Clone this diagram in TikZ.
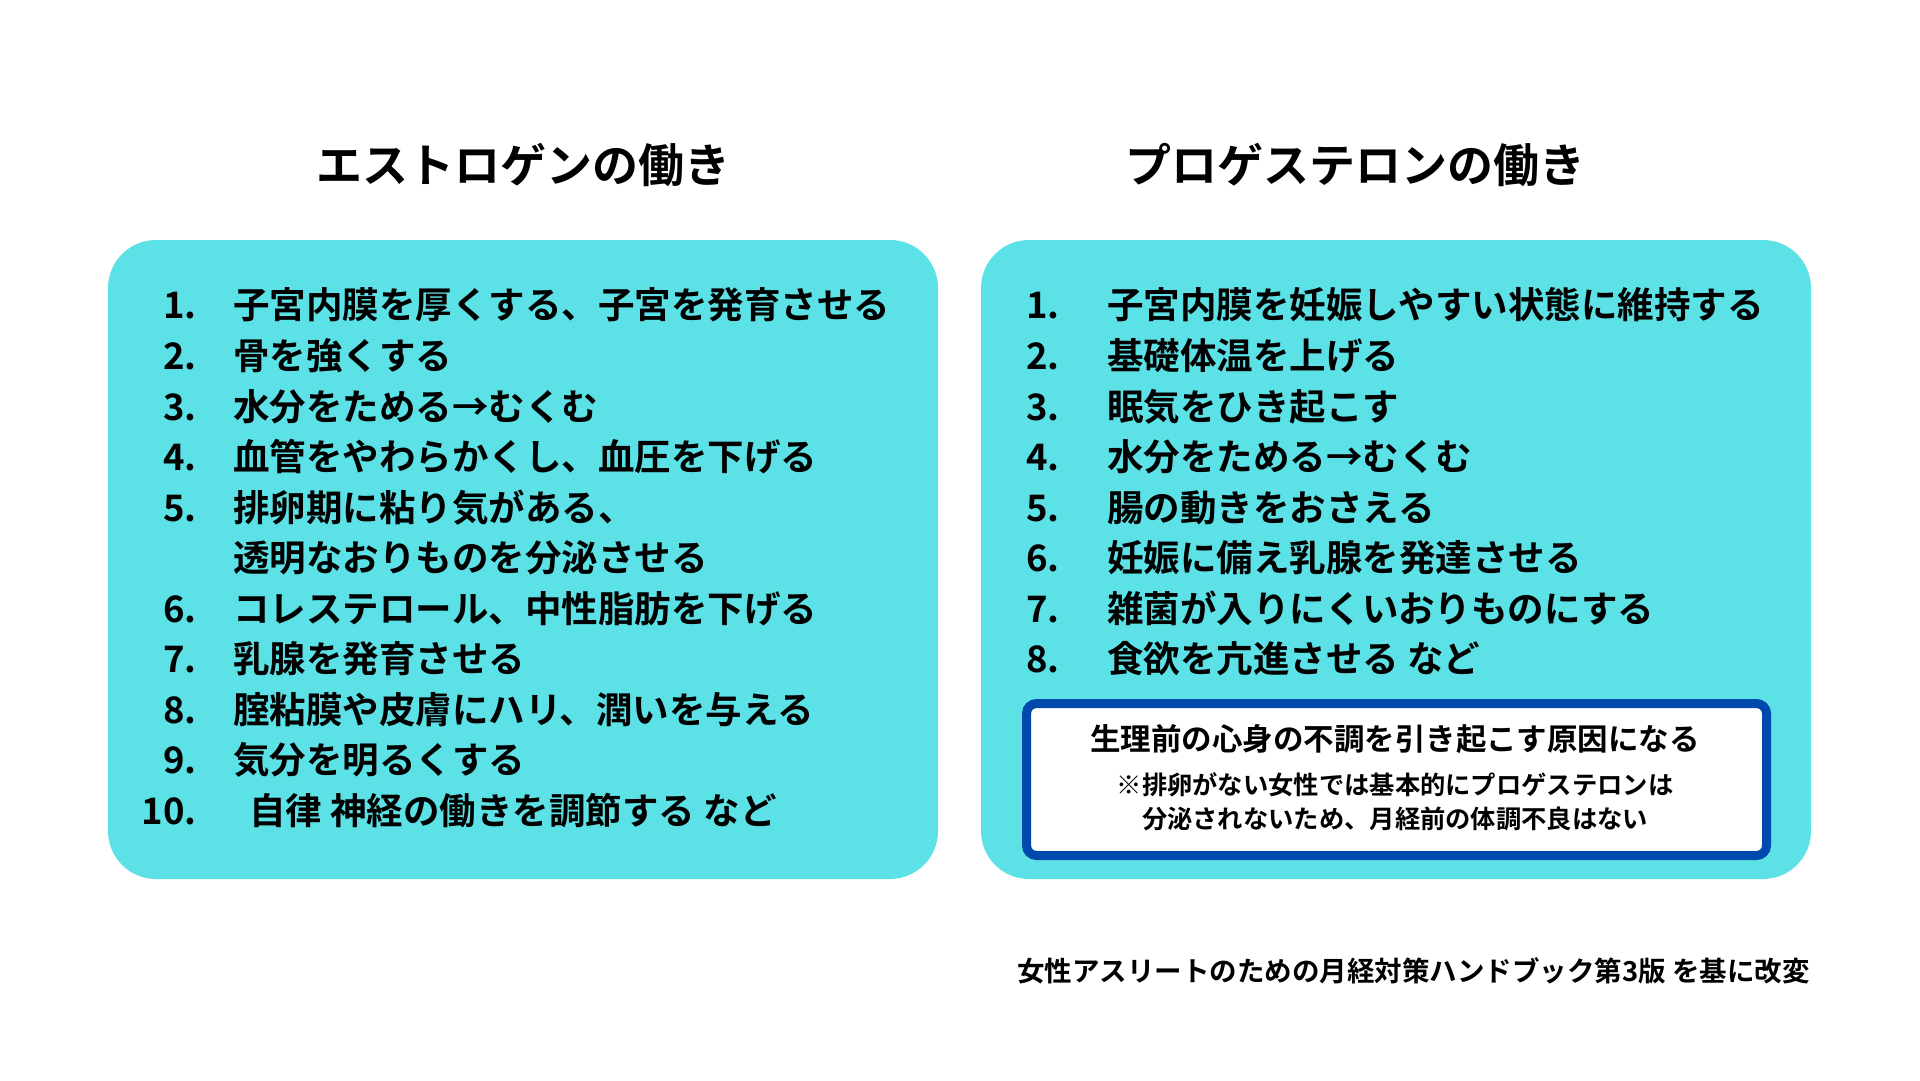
\documentclass[tikz,border=0pt]{standalone}
\usepackage{fontspec}
\setmainfont{Noto Sans CJK JP}[BoldFont={Noto Sans CJK JP Bold}]
\definecolor{cardcyan}{HTML}{5CE1E6}
\definecolor{boxblue}{HTML}{004AAD}
\tikzset{
  card/.style={fill=cardcyan, draw=none, rounded corners=48pt},
  ttl/.style={font=\fontsize{46}{55}\selectfont\bfseries, text=black, inner sep=0pt},
  itm/.style={anchor=west, inner sep=0pt, font=\fontsize{36.5}{43}\selectfont\bfseries, text height=32.1pt, text depth=4.4pt},
  num/.style={anchor=east, inner sep=0pt, font=\fontsize{36.5}{43}\selectfont\bfseries, text height=32.1pt, text depth=4.4pt},
  notebox/.style={draw=boxblue, line width=9pt, fill=white, rounded corners=10pt},
  boxhead/.style={inner sep=0pt, font=\fontsize{30.5}{36}\selectfont\bfseries},
  boxnote/.style={inner sep=0pt, font=\fontsize{25.3}{30}\selectfont\bfseries},
  foot/.style={anchor=east, inner sep=0pt, font=\fontsize{27.5}{33}\selectfont\bfseries}
}
\begin{document}
\begin{tikzpicture}[x=1pt,y=-1pt]
\useasboundingbox (0,0) rectangle (1920,1080);
\fill[white] (0,0) rectangle (1920,1080);
% titles
\node[ttl] (t1) at (523,165) {エストロゲンの働き};
\node[ttl] (t2) at (1355,165) {プロゲステロンの働き};
% cards
\path[card] (108,240) rectangle (938,879);
\path[card] (981,240) rectangle (1811,879);
% left list
\def\xn{197}\def\xt{233}
\node[num] (ln1) at (\xn,305) {1.};   \node[itm] (li1) at (\xt,305) {子宮内膜を厚くする、子宮を発育させる};
\node[num] (ln2) at (\xn,356) {2.};   \node[itm] (li2) at (\xt,356) {骨を強くする};
\node[num] (ln3) at (\xn,406.5) {3.}; \node[itm] (li3) at (\xt,406.5) {水分をためる→むくむ};
\node[num] (ln4) at (\xn,457) {4.};   \node[itm] (li4) at (\xt,457) {血管をやわらかくし、血圧を下げる};
\node[num] (ln5) at (\xn,507.5) {5.}; \node[itm] (li5) at (\xt,507.5) {排卵期に粘り気がある、};
\node[itm] (li5b) at (\xt,558) {透明なおりものを分泌させる};
\node[num] (ln6) at (\xn,608.5) {6.}; \node[itm] (li6) at (\xt,608.5) {コレステロール、中性脂肪を下げる};
\node[num] (ln7) at (\xn,659) {7.};   \node[itm] (li7) at (\xt,659) {乳腺を発育させる};
\node[num] (ln8) at (\xn,709.5) {8.}; \node[itm] (li8) at (\xt,709.5) {腟粘膜や皮膚にハリ、潤いを与える};
\node[num] (ln9) at (\xn,760) {9.};   \node[itm] (li9) at (\xt,760) {気分を明るくする};
\node[num] (ln10) at (\xn,810.5) {10.}; \node[itm] (li10) at (249,810.5) {自律 神経の働きを調節する など};
% right list
\def\xrn{1060}\def\xrt{1107}
\node[num] (rn1) at (\xrn,305) {1.};   \node[itm] (ri1) at (\xrt,305) {子宮内膜を妊娠しやすい状態に維持する};
\node[num] (rn2) at (\xrn,356) {2.};   \node[itm] (ri2) at (\xrt,356) {基礎体温を上げる};
\node[num] (rn3) at (\xrn,406.5) {3.}; \node[itm] (ri3) at (\xrt,406.5) {眠気をひき起こす};
\node[num] (rn4) at (\xrn,457) {4.};   \node[itm] (ri4) at (\xrt,457) {水分をためる→むくむ};
\node[num] (rn5) at (\xrn,507.5) {5.}; \node[itm] (ri5) at (\xrt,507.5) {腸の動きをおさえる};
\node[num] (rn6) at (\xrn,558) {6.};   \node[itm] (ri6) at (\xrt,558) {妊娠に備え乳腺を発達させる};
\node[num] (rn7) at (\xrn,608.5) {7.}; \node[itm] (ri7) at (\xrt,608.5) {雑菌が入りにくいおりものにする};
\node[num] (rn8) at (\xrn,659) {8.};   \node[itm] (ri8) at (\xrt,659) {食欲を亢進させる など};
% note box
\path[notebox] (1026.5,703.5) rectangle (1766.5,855.5);
\node[boxhead] (bh) at (1395,739) {生理前の心身の不調を引き起こす原因になる};
\node[boxnote] (bn1) at (1395,785) {※排卵がない女性では基本的にプロゲステロンは};
\node[boxnote] (bn2) at (1395,819) {分泌されないため、月経前の体調不良はない};
% footer
\node[foot] (ft) at (1810,971) {女性アスリートのための月経対策ハンドブック第3版 を基に改変};
\end{tikzpicture}
\end{document}
